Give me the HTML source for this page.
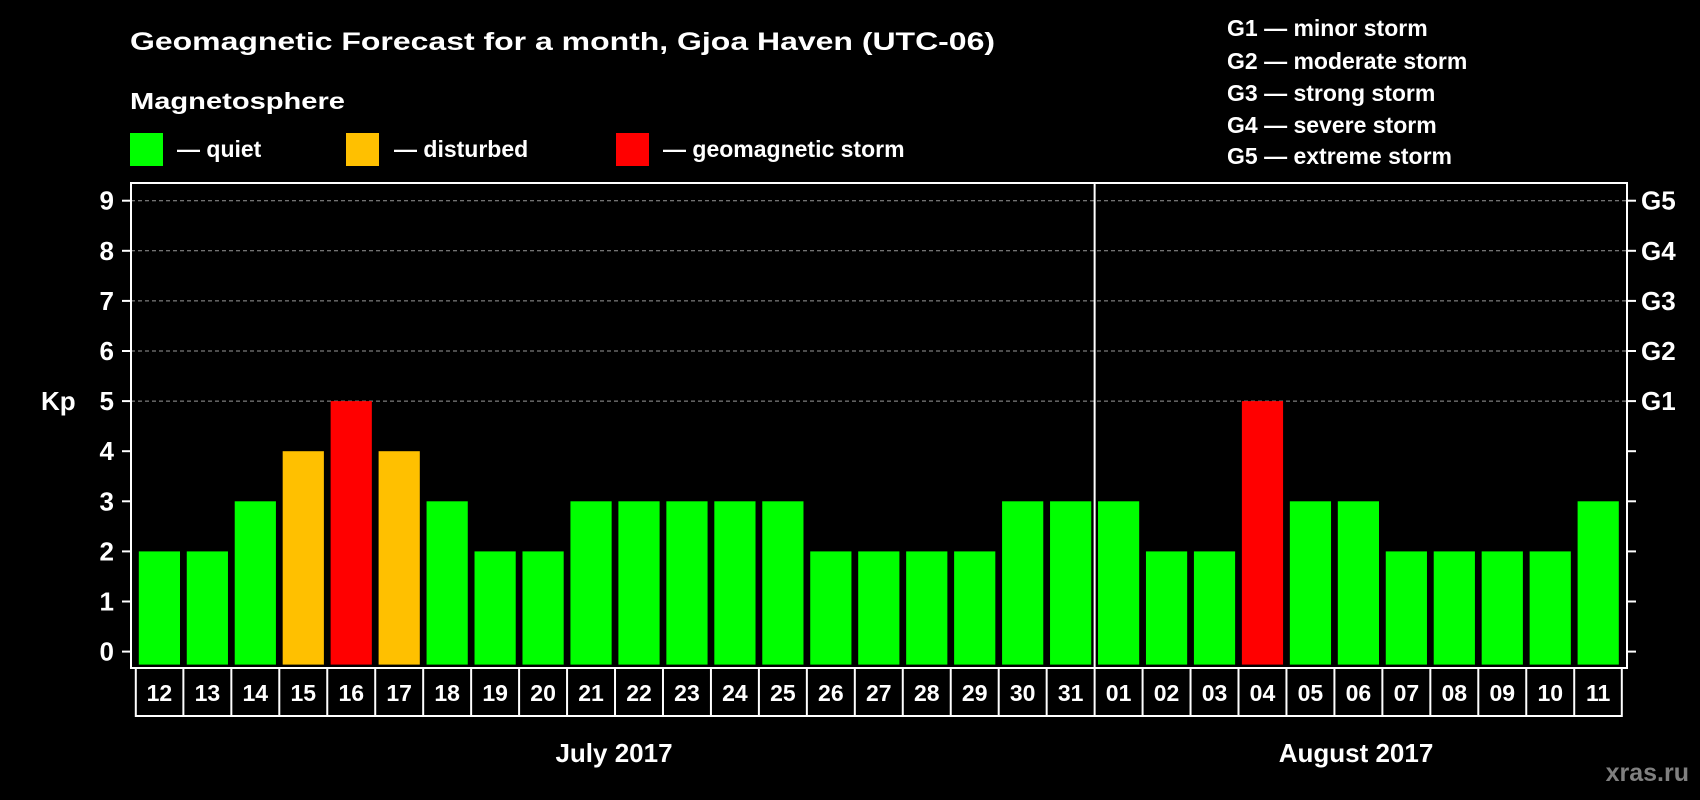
<!DOCTYPE html>
<html><head><meta charset="utf-8"><style>
html,body{margin:0;padding:0;background:#000;}
svg{display:block;font-family:"Liberation Sans",Arial,sans-serif;font-weight:bold;}
</style></head><body>
<svg id="chart" width="1700" height="800" viewBox="0 0 1700 800">
<text x="130" y="50" font-size="25" fill="#fff" textLength="865" lengthAdjust="spacingAndGlyphs">Geomagnetic Forecast for a month, Gjoa Haven (UTC-06)</text>
<text x="130" y="109" font-size="23" fill="#fff" textLength="215" lengthAdjust="spacingAndGlyphs">Magnetosphere</text>
<rect x="130" y="133" width="33" height="33" fill="#00ff00"/>
<text x="177" y="157" font-size="23" fill="#fff">— quiet</text>
<rect x="346" y="133" width="33" height="33" fill="#ffc000"/>
<text x="394" y="157" font-size="23" fill="#fff">— disturbed</text>
<rect x="616" y="133" width="33" height="33" fill="#ff0000"/>
<text x="663" y="157" font-size="23" fill="#fff">— geomagnetic storm</text>
<g font-size="23" fill="#fff">
<text x="1227" y="36">G1 — minor storm</text>
<text x="1227" y="69">G2 — moderate storm</text>
<text x="1227" y="101">G3 — strong storm</text>
<text x="1227" y="133">G4 — severe storm</text>
<text x="1227" y="164">G5 — extreme storm</text>
</g>
<text x="41" y="410" font-size="26" fill="#fff">Kp</text>
<g id="plot"></g>
<text x="614" y="762" font-size="26" fill="#fff" text-anchor="middle">July 2017</text>
<text x="1356" y="762" font-size="26" fill="#fff" text-anchor="middle">August 2017</text>
<text x="1689" y="781" font-size="25" fill="#808080" text-anchor="end">xras.ru</text>
</svg>
<script>
const days = ["12","13","14","15","16","17","18","19","20","21","22","23","24","25","26","27","28","29","30","31","01","02","03","04","05","06","07","08","09","10","11"];
const kpValues = [2,2,3,4,5,4,3,2,2,3,3,3,3,3,2,2,2,2,3,3,3,2,2,5,3,3,2,2,2,2,3];
const yTicks = [0,1,2,3,4,5,6,7,8,9];
const gLabels = ["G1","G2","G3","G4","G5"];
const gLevels = [5,6,7,8,9];
const monthSplitIndex = 20;

const NS = "http://www.w3.org/2000/svg";
const plot = document.getElementById("plot");
const L = 131, R = 1627, T = 183, B = 668;
const y0 = 651.6, unit = 50.1;
const x0 = 138.8, step = 47.96, bw = 41.2;
const yS = v => y0 - v * unit;
const xS = i => x0 + i * step;
function mk(tag, attrs) { const e = document.createElementNS(NS, tag); for (const k in attrs) e.setAttribute(k, attrs[k]); plot.appendChild(e); return e; }
function color(v) { return v >= 5 ? "#ff0000" : v >= 4 ? "#ffc000" : "#00ff00"; }

yTicks.forEach(t => {
  const y = yS(t);
  if (t >= 5) {
    const g = mk("line", {x1: L, x2: R, y1: y, y2: y, stroke: "#999", "stroke-width": 1, "stroke-dasharray": "4,3"});
    
    
  }
  const tl = mk("line", {x1: L - 9, x2: L, y1: y, y2: y, stroke: "#fff", "stroke-width": 2});
  
  
  const tr = mk("line", {x1: R, x2: R + 9, y1: y, y2: y, stroke: "#fff", "stroke-width": 2});
  
  
  const lab = mk("text", {x: 114, y: y + 9, "font-size": 26, fill: "#fff", "text-anchor": "end"});
  lab.textContent = t;
  
  
});
gLabels.forEach((g, i) => {
  const t = mk("text", {x: 1641, y: yS(gLevels[i]) + 9, "font-size": 26, fill: "#fff"});
  t.textContent = g;
  
  
});
kpValues.forEach((v, i) => {
  const b = mk("rect", {x: xS(i), y: yS(v), width: bw, height: y0 - yS(v) + 13, fill: color(v)});
  
  
});
const frame = mk("rect", {x: L, y: T, width: R - L, height: B - T, fill: "none", stroke: "#fff", "stroke-width": 2});


const sx = (xS(monthSplitIndex - 1) + bw + xS(monthSplitIndex)) / 2;
const sep = mk("line", {x1: sx, x2: sx, y1: T, y2: B, stroke: "#fff", "stroke-width": 2});


// date boxes
const bl = xS(0) - 3, br = xS(days.length - 1) + bw + 3, bt = B, bb = 716;
const box = mk("rect", {x: bl, y: bt, width: br - bl, height: bb - bt, fill: "none", stroke: "#fff", "stroke-width": 2});


days.forEach((d, i) => {
  if (i > 0) {
    const dx = (xS(i - 1) + bw + xS(i)) / 2;
    const dl = mk("line", {x1: dx, x2: dx, y1: bt, y2: bb, stroke: "#fff", "stroke-width": 2});
    
    
  }
  const t = mk("text", {x: xS(i) + bw / 2, y: 701, "font-size": 23, fill: "#fff", "text-anchor": "middle"});
  t.textContent = d;
  
  
});
</script>
</body></html>
